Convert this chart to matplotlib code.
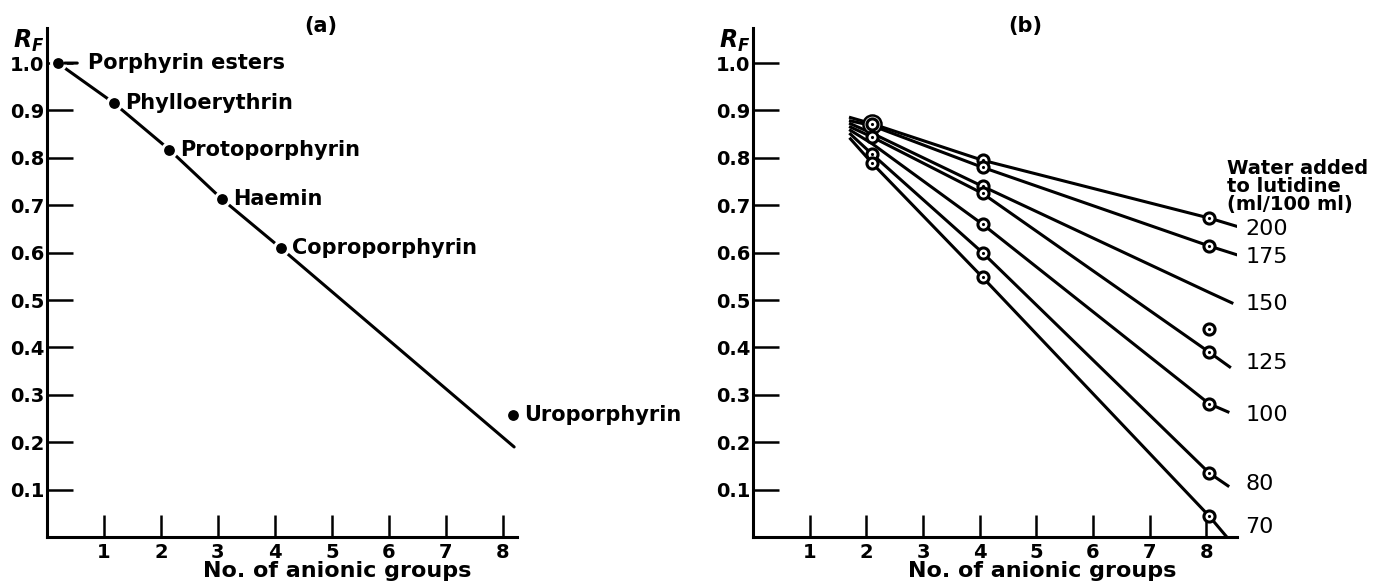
import matplotlib.pyplot as plt

plt.rcParams['font.family'] = 'DejaVu Sans'
plt.rcParams['font.weight'] = 'bold'
plt.rcParams['axes.labelweight'] = 'bold'
plt.rcParams['mathtext.fontset'] = 'dejavusans'

# ---- panel (a): RF against number of anionic groups
compounds = ['Porphyrin esters', 'Phylloerythrin', 'Protoporphyrin',
             'Haemin', 'Coproporphyrin', 'Uroporphyrin']
groups_a = [0.19, 1.17, 2.15, 3.07, 4.1, 8.18]
rf_a = [1.0, 0.916, 0.817, 0.713, 0.61, 0.257]
line_a_end = (8.2, 0.19)

# ---- panel (b): water added to lutidine (ml/100 ml)
water = ['200', '175', '150', '125', '100', '80', '70']
groups_b = [1.72, 2.1, 4.05, 8.05]
rf_lines = [
    [0.885, 0.872, 0.795, 0.673],
    [0.878, 0.868, 0.780, 0.614],
    [0.872, 0.852, 0.740, 0.516],
    [0.865, 0.844, 0.725, 0.390],
    [0.858, 0.830, 0.660, 0.281],
    [0.850, 0.808, 0.600, 0.135],
    [0.840, 0.789, 0.548, 0.044],
]
line_end_x = [8.55, 8.55, 8.45, 8.41, 8.38, 8.38, 8.36]
line_end_y = [0.655, 0.595, 0.494, 0.359, 0.264, 0.108, 0.0]
# measured spots (open circles)
spots_2 = [0.872, 0.844, 0.808, 0.789]
spots_4 = [0.795, 0.780, 0.740, 0.725, 0.660, 0.600, 0.548]
spots_8 = [0.673, 0.614, 0.439, 0.390, 0.281, 0.135, 0.044]

y_ticks = [0.1, 0.2, 0.3, 0.4, 0.5, 0.6, 0.7, 0.8, 0.9, 1.0]
x_ticks = [1, 2, 3, 4, 5, 6, 7, 8]

W, H = 1375, 583
fig = plt.figure(figsize=(W / 100, H / 100), dpi=100)
ax_a = fig.add_axes([47 / W, 46 / H, 470 / W, 509 / H])
ax_b = fig.add_axes([753 / W, 46 / H, 484 / W, 509 / H])


def style(ax, xmax, tag):
    ax.set_xlim(0, xmax)
    ax.set_ylim(0, 1.074)
    for s in ['top', 'right']:
        ax.spines[s].set_visible(False)
    for s in ['left', 'bottom']:
        ax.spines[s].set_linewidth(2.2)
    ax.set_yticks(y_ticks)
    ax.set_yticklabels([f'{v:.1f}' for v in y_ticks])
    ax.set_xticks(x_ticks)
    ax.tick_params(axis='y', direction='in', length=19, width=1.8, pad=2, labelsize=14)
    ax.tick_params(axis='x', direction='in', length=16, width=1.8, pad=4, labelsize=14)
    ax.set_xlabel('No. of anionic groups', fontsize=16, fontweight='bold')
    ax.xaxis.set_label_coords(5.1 / xmax, -0.048)
    ax.annotate('$R_F$', xy=(0, 1), xycoords='axes fraction', xytext=(-2, 0),
                textcoords='offset points', ha='right', va='top', fontsize=17)
    ax.text(4.8, 1.078, tag, ha='center', va='center', fontsize=15, clip_on=False)


style(ax_a, 8.25, '(a)')
style(ax_b, 8.54, '(b)')

# panel (a)
ax_a.plot(groups_a[:5] + [line_a_end[0]], rf_a[:5] + [line_a_end[1]],
          color='black', lw=2.2, solid_capstyle='round', zorder=2)
ax_a.plot(groups_a, rf_a, 'o', color='black', ms=10, mec='white', mew=2.2,
          clip_on=False, zorder=3)
for i, (name, gx, gy) in enumerate(zip(compounds, groups_a, rf_a)):
    if i == 0:
        ax_a.annotate(name, xy=(gx, gy), xytext=(22, 0), textcoords='offset points',
                      va='center', ha='left', fontsize=15,
                      arrowprops=dict(arrowstyle='-', lw=2.2, relpos=(0, 0.5),
                                      shrinkA=6, shrinkB=5, color='black'))
    else:
        ax_a.annotate(name, xy=(gx, gy), xytext=(8, 0), textcoords='offset points',
                      va='center', ha='left', fontsize=15)

# panel (b)
for lab, ys, ex, ey in zip(water, rf_lines, line_end_x, line_end_y):
    ax_b.plot(groups_b + [ex], ys + [ey], color='black', lw=2.2, zorder=2)
    ax_b.annotate(lab, xy=(groups_b[-1], ys[-1]), xytext=(26, -8),
                  textcoords='offset points', va='center', ha='left', fontsize=16,
                  fontweight='normal', annotation_clip=False)

spot_x = [groups_b[1]] * len(spots_2) + [groups_b[2]] * len(spots_4) + [groups_b[3]] * len(spots_8)
spot_y = spots_2 + spots_4 + spots_8
ax_b.plot(groups_b[1], spots_2[0], 'o', ms=13, mfc='white', mec='black', mew=1.8, zorder=3)
ax_b.plot(spot_x, spot_y, 'o', ms=8, mfc='white', mec='black', mew=2.2, zorder=4)
ax_b.plot(spot_x, spot_y, '.', ms=2.5, color='black', zorder=5)

ax_b.text(8.36, 0.74, 'Water added\nto lutidine\n(ml/100 ml)', ha='left', va='center',
          fontsize=14, linespacing=0.95, clip_on=False)

fig.savefig('out.png', dpi=100, facecolor='white')
